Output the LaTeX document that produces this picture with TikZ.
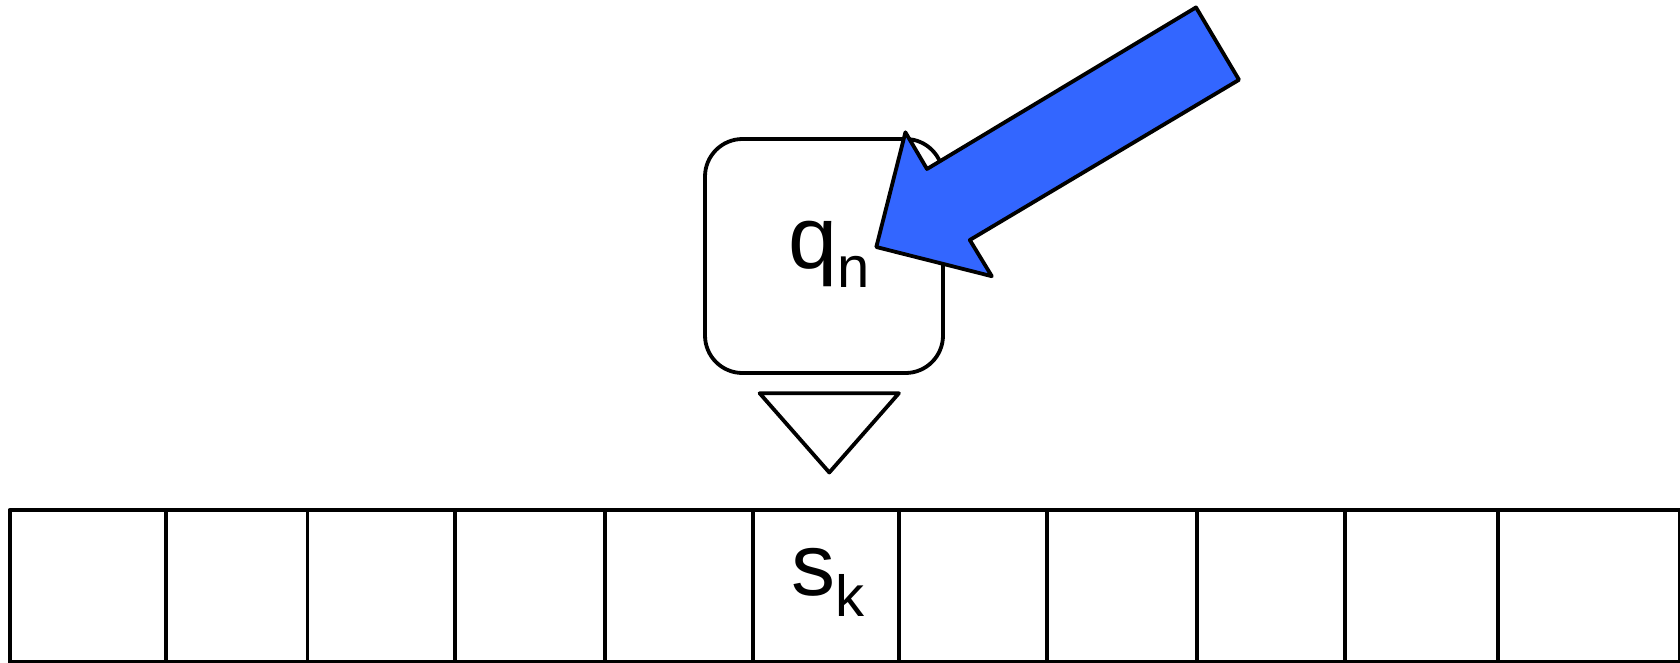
\documentclass[tikz,border=0pt]{standalone}
\usepackage{fontspec}
\setmainfont{Liberation Sans}
\definecolor{arrowblue}{HTML}{3366FF}
\tikzset{
  outline/.style={draw=black, line width=3.8pt, line join=round},
  bigtext/.style={inner sep=0pt, anchor=base west, font=\fontsize{88pt}{88pt}\selectfont},
}
\begin{document}
\begin{tikzpicture}[x=1pt, y=-1pt]
\useasboundingbox (0,0) rectangle (1680,662);

% tape with its cells
\draw[outline] (9.6,662) -- (9.6,510) -- (1679.5,510) -- (1679.5,662) -- cycle;
\foreach \xc in {166,307.5,455,605,753,899,1047,1197,1344.6,1497.8}
  \draw[outline] (\xc,510) -- (\xc,662);

% read/write head: state box and pointer
\draw[outline, fill=white, rounded corners=37.5pt] (705,139) rectangle (943,373);
\draw[outline, fill=white] (759.6,393.2) -- (898.9,393.2) -- (829.3,472.5) -- cycle;

% labels
\node[bigtext] (state) at (788,268) {q\raisebox{-19pt}{\fontsize{58pt}{58pt}\selectfont n}};
\node[bigtext] (symbol) at (791.5,595.5) {s\raisebox{-20.5pt}{\fontsize{58pt}{58pt}\selectfont k}};

% block arrow pointing at the state box
\draw[outline, fill=arrowblue]
  (876.3,247) -- (905.4,132.3) -- (927,169) -- (1196,7.4)
  -- (1239,79.8) -- (969.8,240) -- (991.8,276.2) -- cycle;
\end{tikzpicture}
\end{document}
